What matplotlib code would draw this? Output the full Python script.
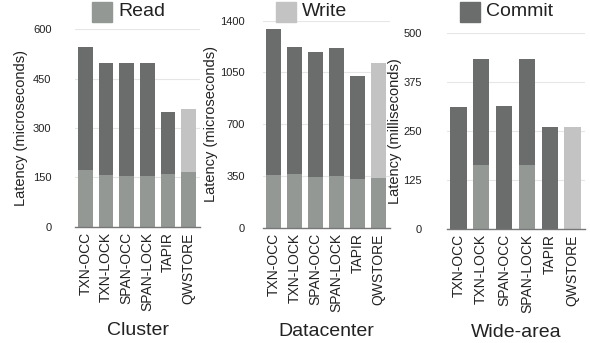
import matplotlib
matplotlib.use("Agg")
import matplotlib.pyplot as plt

plt.rcParams['font.family'] = ['Liberation Sans', 'DejaVu Sans']

systems = ["TXN-OCC", "TXN-LOCK", "SPAN-OCC", "SPAN-LOCK", "TAPIR", "QWSTORE"]

# Cluster (microseconds)
cluster_read = [172, 157, 154, 153, 160, 165]
cluster_commit = [375, 340, 344, 344, 188, 0]
cluster_write = [0, 0, 0, 0, 0, 192]

# Datacenter (microseconds)
dc_read = [356, 361, 345, 350, 327, 338]
dc_commit = [990, 859, 841, 865, 699, 0]
dc_write = [0, 0, 0, 0, 0, 774]

# Wide-area (milliseconds)
wa_read = [0, 163, 0, 163, 0, 0]
wa_commit = [311, 272, 314, 272, 260, 0]
wa_write = [0, 0, 0, 0, 0, 260]

panels = [
    ("Cluster", "Latency (microseconds)", cluster_read, cluster_commit, cluster_write,
     [0, 150, 300, 450, 600], "Read"),
    ("Datacenter", "Latency (microseconds)", dc_read, dc_commit, dc_write,
     [0, 350, 700, 1050, 1400], "Write"),
    ("Wide-area", "Latency (milliseconds)", wa_read, wa_commit, wa_write,
     [0, 125, 250, 375, 500], "Commit"),
]

c_read = "#939895"
c_commit = "#6a6d6b"
c_write = "#c3c3c3"
legend_colors = {"Read": c_read, "Write": c_write, "Commit": c_commit}

W, H = 590, 343
fig = plt.figure(figsize=(W / 100, H / 100), dpi=100)

# axes boxes in pixels: left, right, top, bottom
boxes = [(75, 200, 29.3, 226.7), (263, 390, 20.7, 227.7), (447, 585, 33.3, 228.7)]
legend_pos = [(92, 12), (276, 12), (460, 12)]
tick_pads = [17, 13, 18]
ylabel_right = [28, 218, 402]

for (xlab, ylab, rd, cm, wr, ticks, leg), (l, r, t, b), (lx, ly), tp, yr in zip(
        panels, boxes, legend_pos, tick_pads, ylabel_right):
    ax = fig.add_axes([l / W, 1 - b / H, (r - l) / W, (b - t) / H])
    x = range(len(systems))
    bw = 0.71
    ax.bar(x, rd, width=bw, color=c_read, zorder=3, linewidth=0)
    ax.bar(x, cm, width=bw, bottom=rd, color=c_commit, zorder=3, linewidth=0)
    bottoms = [a + c for a, c in zip(rd, cm)]
    ax.bar(x, wr, width=bw, bottom=bottoms, color=c_write, zorder=3, linewidth=0)
    ax.set_xlim(-0.5, 5.55)
    ax.set_ylim(0, ticks[-1])
    ax.set_yticks(ticks)
    ax.set_yticklabels([str(v) for v in ticks], fontsize=8, color="#222222")
    ax.set_xticks(list(x))
    ax.set_xticklabels(systems, rotation=90, fontsize=10, color="#222222")
    ax.tick_params(axis="both", length=0, pad=4)
    ax.tick_params(axis="y", pad=tp)
    ax.grid(axis="y", color="#e6e6e6", linewidth=0.8, zorder=0)
    for s in ["top", "right", "left"]:
        ax.spines[s].set_visible(False)
    ax.spines["bottom"].set_color("#777777")
    ax.spines["bottom"].set_linewidth(1.0)
    ax.spines["bottom"].set_zorder(4)
    ax.set_ylabel(ylab, fontsize=10.5, color="#222222")
    ax.yaxis.set_label_coords((yr - l) / (r - l), 0.5)
    ax.set_xlabel(xlab, fontsize=14, color="#222222", labelpad=8)
    # legend entry
    fig.patches.append(plt.Rectangle((lx / W, 1 - (ly + 10) / H), 20 / W, 20 / H,
                                     transform=fig.transFigure, color=legend_colors[leg],
                                     figure=fig))
    fig.text((lx + 26) / W, 1 - ly / H, leg, fontsize=14, va="center", ha="left",
             color="#222222")

fig.savefig("out.png", dpi=100)
